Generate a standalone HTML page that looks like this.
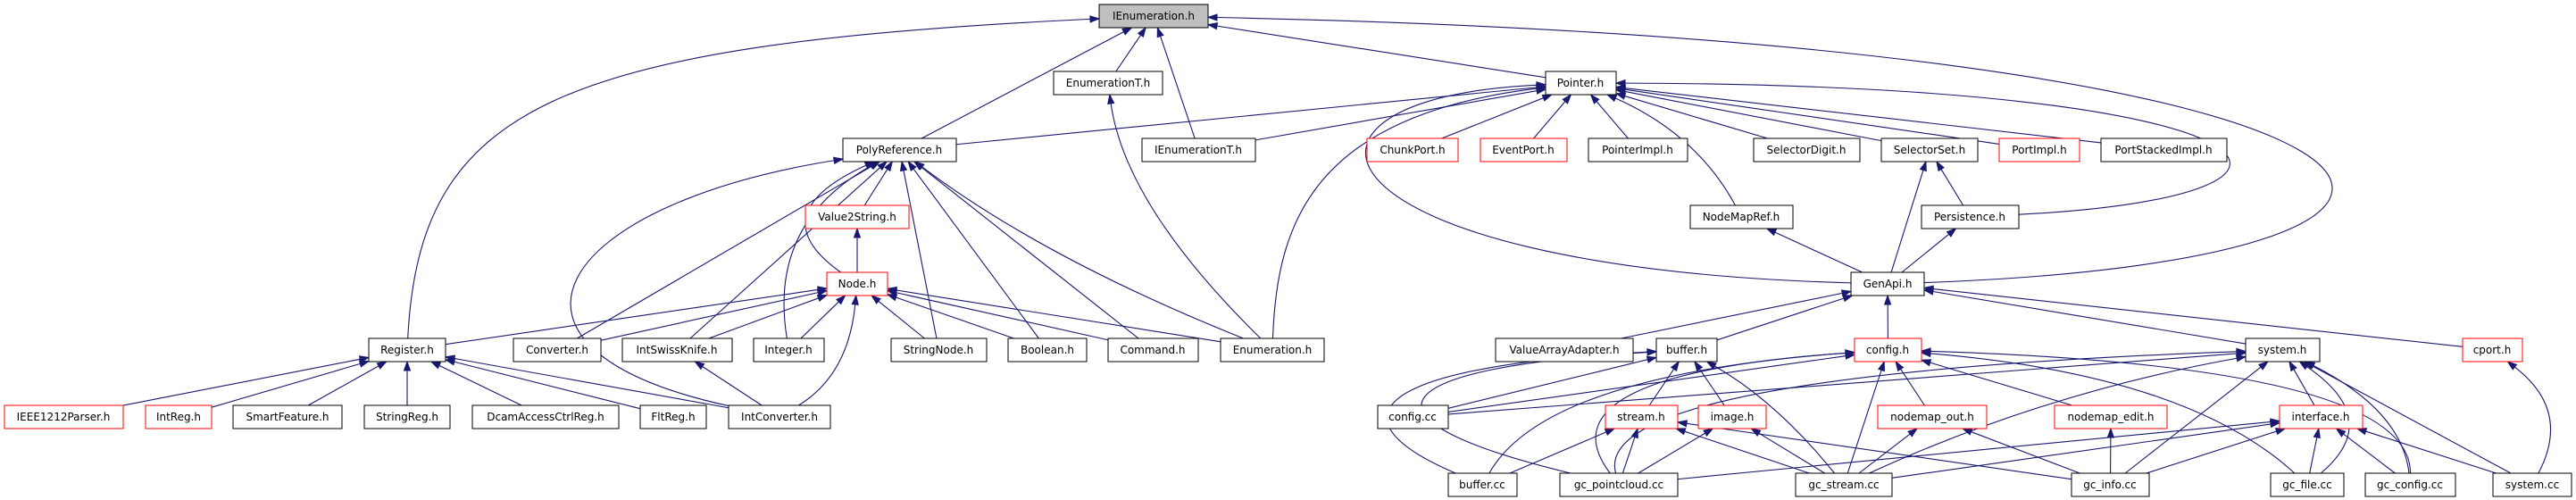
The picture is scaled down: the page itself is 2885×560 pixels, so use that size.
<!DOCTYPE html>
<html><head><meta charset="utf-8"><style>
html,body{margin:0;padding:0;background:#fff;}
svg{display:block;}
text{font-family:"DejaVu Sans","Liberation Sans",sans-serif;font-size:12px;fill:#000;}
</style></head><body>
<svg id="g" width="2885" height="560" viewBox="0 0 2885 560" xmlns="http://www.w3.org/2000/svg">
<g id="edges" fill="none" stroke="#191970" stroke-width="1.1"></g>
<g id="heads" fill="#191970" stroke="#191970"></g>
<g id="nodes">
<rect x="1231" y="5" width="122" height="26" fill="#bfbfbf" stroke="#000"/><text x="1292" y="22" text-anchor="middle">IEnumeration.h</text>
<rect x="1180" y="80" width="122" height="26" fill="#fff" stroke="#000"/><text x="1241" y="97" text-anchor="middle">EnumerationT.h</text>
<rect x="1731" y="80" width="79" height="26" fill="#fff" stroke="#000"/><text x="1770" y="97" text-anchor="middle">Pointer.h</text>
<rect x="944" y="155" width="127" height="26" fill="#fff" stroke="#000"/><text x="1007" y="172" text-anchor="middle">PolyReference.h</text>
<rect x="1279" y="155" width="127" height="26" fill="#fff" stroke="#000"/><text x="1342" y="172" text-anchor="middle">IEnumerationT.h</text>
<rect x="1531" y="155" width="102" height="26" fill="#fff" stroke="#f00"/><text x="1582" y="172" text-anchor="middle">ChunkPort.h</text>
<rect x="1658" y="155" width="97" height="26" fill="#fff" stroke="#f00"/><text x="1706" y="172" text-anchor="middle">EventPort.h</text>
<rect x="1779" y="155" width="111" height="26" fill="#fff" stroke="#000"/><text x="1834" y="172" text-anchor="middle">PointerImpl.h</text>
<rect x="1964" y="155" width="119" height="26" fill="#fff" stroke="#000"/><text x="2023" y="172" text-anchor="middle">SelectorDigit.h</text>
<rect x="2107" y="155" width="108" height="26" fill="#fff" stroke="#000"/><text x="2161" y="172" text-anchor="middle">SelectorSet.h</text>
<rect x="2239" y="155" width="90" height="26" fill="#fff" stroke="#f00"/><text x="2284" y="172" text-anchor="middle">PortImpl.h</text>
<rect x="2353" y="155" width="141" height="26" fill="#fff" stroke="#000"/><text x="2423" y="172" text-anchor="middle">PortStackedImpl.h</text>
<rect x="902" y="230" width="116" height="26" fill="#fff" stroke="#f00"/><text x="960" y="247" text-anchor="middle">Value2String.h</text>
<rect x="1893" y="230" width="115" height="26" fill="#fff" stroke="#000"/><text x="1950" y="247" text-anchor="middle">NodeMapRef.h</text>
<rect x="2152" y="230" width="109" height="26" fill="#fff" stroke="#000"/><text x="2206" y="247" text-anchor="middle">Persistence.h</text>
<rect x="926" y="305" width="68" height="26" fill="#fff" stroke="#f00"/><text x="960" y="322" text-anchor="middle">Node.h</text>
<rect x="2073" y="305" width="82" height="26" fill="#fff" stroke="#000"/><text x="2114" y="322" text-anchor="middle">GenApi.h</text>
<rect x="413" y="379" width="86" height="26" fill="#fff" stroke="#000"/><text x="456" y="396" text-anchor="middle">Register.h</text>
<rect x="575" y="379" width="98" height="26" fill="#fff" stroke="#000"/><text x="624" y="396" text-anchor="middle">Converter.h</text>
<rect x="697" y="379" width="123" height="26" fill="#fff" stroke="#000"/><text x="758" y="396" text-anchor="middle">IntSwissKnife.h</text>
<rect x="844" y="379" width="79" height="26" fill="#fff" stroke="#000"/><text x="883" y="396" text-anchor="middle">Integer.h</text>
<rect x="998" y="379" width="107" height="26" fill="#fff" stroke="#000"/><text x="1051" y="396" text-anchor="middle">StringNode.h</text>
<rect x="1129" y="379" width="88" height="26" fill="#fff" stroke="#000"/><text x="1173" y="396" text-anchor="middle">Boolean.h</text>
<rect x="1241" y="379" width="101" height="26" fill="#fff" stroke="#000"/><text x="1291" y="396" text-anchor="middle">Command.h</text>
<rect x="1367" y="379" width="116" height="26" fill="#fff" stroke="#000"/><text x="1425" y="396" text-anchor="middle">Enumeration.h</text>
<rect x="1675" y="379" width="154" height="26" fill="#fff" stroke="#000"/><text x="1752" y="396" text-anchor="middle">ValueArrayAdapter.h</text>
<rect x="1855" y="379" width="68" height="26" fill="#fff" stroke="#000"/><text x="1889" y="396" text-anchor="middle">buffer.h</text>
<rect x="2077" y="379" width="75" height="26" fill="#fff" stroke="#f00"/><text x="2114" y="396" text-anchor="middle">config.h</text>
<rect x="2515" y="379" width="83" height="26" fill="#fff" stroke="#000"/><text x="2556" y="396" text-anchor="middle">system.h</text>
<rect x="2758" y="379" width="67" height="26" fill="#fff" stroke="#f00"/><text x="2791" y="396" text-anchor="middle">cport.h</text>
<rect x="5" y="454" width="133" height="26" fill="#fff" stroke="#f00"/><text x="71" y="471" text-anchor="middle">IEEE1212Parser.h</text>
<rect x="163" y="454" width="74" height="26" fill="#fff" stroke="#f00"/><text x="200" y="471" text-anchor="middle">IntReg.h</text>
<rect x="261" y="454" width="122" height="26" fill="#fff" stroke="#000"/><text x="322" y="471" text-anchor="middle">SmartFeature.h</text>
<rect x="408" y="454" width="96" height="26" fill="#fff" stroke="#000"/><text x="456" y="471" text-anchor="middle">StringReg.h</text>
<rect x="529" y="454" width="164" height="26" fill="#fff" stroke="#000"/><text x="611" y="471" text-anchor="middle">DcamAccessCtrlReg.h</text>
<rect x="717" y="454" width="74" height="26" fill="#fff" stroke="#000"/><text x="754" y="471" text-anchor="middle">FltReg.h</text>
<rect x="816" y="454" width="114" height="26" fill="#fff" stroke="#000"/><text x="873" y="471" text-anchor="middle">IntConverter.h</text>
<rect x="1543" y="454" width="79" height="26" fill="#fff" stroke="#000"/><text x="1582" y="471" text-anchor="middle">config.cc</text>
<rect x="1798" y="454" width="81" height="26" fill="#fff" stroke="#f00"/><text x="1838" y="471" text-anchor="middle">stream.h</text>
<rect x="1902" y="454" width="76" height="26" fill="#fff" stroke="#f00"/><text x="1940" y="471" text-anchor="middle">image.h</text>
<rect x="2103" y="454" width="122" height="26" fill="#fff" stroke="#f00"/><text x="2164" y="471" text-anchor="middle">nodemap_out.h</text>
<rect x="2301" y="454" width="126" height="26" fill="#fff" stroke="#f00"/><text x="2364" y="471" text-anchor="middle">nodemap_edit.h</text>
<rect x="2553" y="454" width="93" height="26" fill="#fff" stroke="#f00"/><text x="2599" y="471" text-anchor="middle">interface.h</text>
<rect x="1622" y="530" width="77" height="26" fill="#fff" stroke="#000"/><text x="1660" y="547" text-anchor="middle">buffer.cc</text>
<rect x="1747" y="530" width="132" height="26" fill="#fff" stroke="#000"/><text x="1813" y="547" text-anchor="middle">gc_pointcloud.cc</text>
<rect x="2011" y="530" width="108" height="26" fill="#fff" stroke="#000"/><text x="2065" y="547" text-anchor="middle">gc_stream.cc</text>
<rect x="2320" y="530" width="87" height="26" fill="#fff" stroke="#000"/><text x="2363" y="547" text-anchor="middle">gc_info.cc</text>
<rect x="2543" y="530" width="82" height="26" fill="#fff" stroke="#000"/><text x="2584" y="547" text-anchor="middle">gc_file.cc</text>
<rect x="2649" y="530" width="101" height="26" fill="#fff" stroke="#000"/><text x="2699" y="547" text-anchor="middle">gc_config.cc</text>
<rect x="2792" y="530" width="88" height="26" fill="#fff" stroke="#000"/><text x="2836" y="547" text-anchor="middle">system.cc</text>
</g>
</svg>
<script>
(function(){
var B={};
document.querySelectorAll('#nodes rect').forEach(function(r){
 var t=r.nextElementSibling.textContent;
 B[t]={x:+r.getAttribute('x'),y:+r.getAttribute('y'),w:+r.getAttribute('width'),h:+r.getAttribute('height')};
});
function clip(b,tx,ty){
 var cx=b.x+b.w/2,cy=b.y+b.h/2,dx=tx-cx,dy=ty-cy;
 var s=Infinity;
 if(dx!==0)s=Math.min(s,(b.w/2)/Math.abs(dx));
 if(dy!==0)s=Math.min(s,(b.h/2)/Math.abs(dy));
 return [cx+dx*s,cy+dy*s];
}
var E=[
['EnumerationT.h','IEnumeration.h'],['Pointer.h','IEnumeration.h'],['IEnumerationT.h','IEnumeration.h'],['PolyReference.h','IEnumeration.h'],
['Register.h','IEnumeration.h',[470,120],[620,50]],
['GenApi.h','IEnumeration.h',[2900,290],[2800,50]],
['PolyReference.h','Pointer.h'],['IEnumerationT.h','Pointer.h'],['ChunkPort.h','Pointer.h'],['EventPort.h','Pointer.h'],['PointerImpl.h','Pointer.h'],
['SelectorDigit.h','Pointer.h'],['SelectorSet.h','Pointer.h'],['PortImpl.h','Pointer.h'],['PortStackedImpl.h','Pointer.h'],
['NodeMapRef.h','Pointer.h',[1900,150]],
['Persistence.h','Pointer.h',[2660,220],[2580,95]],
['Enumeration.h','Pointer.h',[1430,250],[1470,130]],
['GenApi.h','Pointer.h',[1460,300],[1400,110]],
['Enumeration.h','EnumerationT.h',[1260,230]],
['Value2String.h','PolyReference.h'],['Node.h','PolyReference.h',[850,240]],['Converter.h','PolyReference.h'],['IntSwissKnife.h','PolyReference.h'],
['Integer.h','PolyReference.h',[860,250]],['StringNode.h','PolyReference.h'],['Boolean.h','PolyReference.h'],['Command.h','PolyReference.h'],
['Enumeration.h','PolyReference.h',[1170,290]],
['IntConverter.h','PolyReference.h',[520,390],[620,230]],
['Node.h','Value2String.h'],
['Register.h','Node.h'],['Converter.h','Node.h'],['IntSwissKnife.h','Node.h'],['Integer.h','Node.h'],['IntConverter.h','Node.h',[950,420]],
['StringNode.h','Node.h'],['Boolean.h','Node.h'],['Command.h','Node.h'],['Enumeration.h','Node.h'],
['IEEE1212Parser.h','Register.h'],['IntReg.h','Register.h'],['SmartFeature.h','Register.h'],['StringReg.h','Register.h'],['DcamAccessCtrlReg.h','Register.h'],['FltReg.h','Register.h'],['IntConverter.h','Register.h'],
['IntConverter.h','IntSwissKnife.h'],
['GenApi.h','SelectorSet.h'],['Persistence.h','SelectorSet.h'],['GenApi.h','Persistence.h'],['GenApi.h','NodeMapRef.h'],
['ValueArrayAdapter.h','GenApi.h'],['buffer.h','GenApi.h'],['config.h','GenApi.h'],['system.h','GenApi.h'],['cport.h','GenApi.h'],
['config.cc','buffer.h'],['stream.h','buffer.h'],['image.h','buffer.h'],
['buffer.cc','buffer.h',[1490,470],[1530,410]],['gc_pointcloud.cc','buffer.h',[1510,470],[1540,412]],['gc_stream.cc','buffer.h',[1990,450]],
['config.cc','config.h'],['buffer.cc','config.h',[1730,420]],['gc_pointcloud.cc','config.h',[1720,420]],['gc_stream.cc','config.h'],
['nodemap_out.h','config.h'],['nodemap_edit.h','config.h'],['gc_file.cc','config.h',[2450,420]],['gc_config.cc','config.h',[2700,410]],
['config.cc','system.h'],['gc_pointcloud.cc','system.h',[1780,420]],['gc_stream.cc','system.h',[2290,440]],['gc_info.cc','system.h'],
['interface.h','system.h'],['gc_file.cc','system.h',[2670,470]],['gc_config.cc','system.h',[2690,460]],['system.cc','system.h'],
['buffer.cc','stream.h'],['gc_pointcloud.cc','stream.h'],['gc_stream.cc','stream.h'],['gc_info.cc','stream.h'],
['gc_pointcloud.cc','image.h'],['gc_stream.cc','image.h'],
['gc_stream.cc','nodemap_out.h'],['gc_info.cc','nodemap_out.h'],['gc_info.cc','nodemap_edit.h'],
['gc_pointcloud.cc','interface.h'],['gc_stream.cc','interface.h'],['gc_info.cc','interface.h'],['gc_file.cc','interface.h'],['gc_config.cc','interface.h'],['system.cc','interface.h'],
['system.cc','cport.h',[2880,460]]
];
var ge=document.getElementById('edges'),gh=document.getElementById('heads'),NS='http://www.w3.org/2000/svg';
E.forEach(function(e){
 var c=B[e[0]],p=B[e[1]];if(!c||!p)return;
 var c1=e[2],c2=e[3];
 var pc=[p.x+p.w/2,p.y+p.h/2],cc=[c.x+c.w/2,c.y+c.h/2];
 var s=clip(c,(c1||pc)[0],(c1||pc)[1]);
 var lastC=c2||c1||cc;
 var t=clip(p,lastC[0],lastC[1]);
 var dx=t[0]-lastC[0],dy=t[1]-lastC[1],L=Math.hypot(dx,dy)||1;dx/=L;dy/=L;
 var al=10,aw=3.5;
 var bx=t[0]-dx*al,by=t[1]-dy*al;
 var d='M'+s[0]+','+s[1];
 if(c2)d+=' C'+c1[0]+','+c1[1]+' '+c2[0]+','+c2[1]+' '+bx+','+by;
 else if(c1)d+=' Q'+c1[0]+','+c1[1]+' '+bx+','+by;
 else d+=' L'+bx+','+by;
 var pa=document.createElementNS(NS,'path');pa.setAttribute('d',d);ge.appendChild(pa);
 var po=document.createElementNS(NS,'polygon');
 po.setAttribute('points',t[0]+','+t[1]+' '+(bx-dy*aw)+','+(by+dx*aw)+' '+(bx+dy*aw)+','+(by-dx*aw));
 gh.appendChild(po);
});
})();
</script>
</body></html>
